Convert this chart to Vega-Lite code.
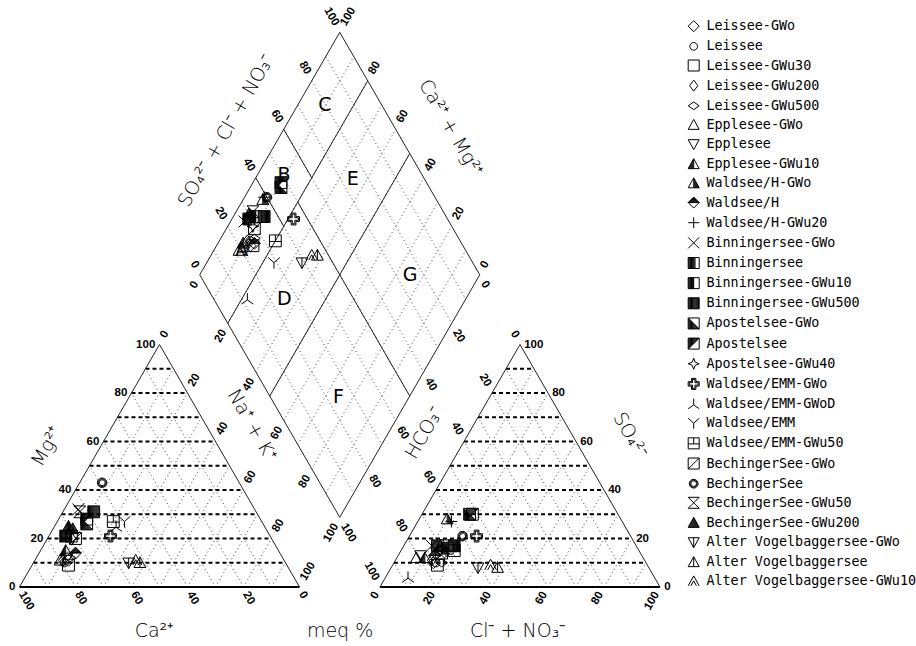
{
"$schema": "https://vega.github.io/schema/vega-lite/v6.json",
"width": 916, "height": 646, "padding": 0, "autosize": {"type": "none"},
"background": "white",
"config": {"view": {"stroke": null}},
"datasets": {
"dots": [
{"x":10,"y":0,"x2":55,"y2":77.94},{"x":20,"y":0,"x2":60,"y2":69.28},{"x":30,"y":0,"x2":65,"y2":60.62},{"x":40,"y":0,"x2":70,"y2":51.96},{"x":50,"y":0,"x2":75,"y2":43.3},{"x":60,"y":0,"x2":80,"y2":34.64},{"x":70,"y":0,"x2":85,"y2":25.98},{"x":80,"y":0,"x2":90,"y2":17.32},{"x":90,"y":0,"x2":95,"y2":8.66},
{"x":10,"y":0,"x2":5,"y2":8.66},{"x":20,"y":0,"x2":10,"y2":17.32},{"x":30,"y":0,"x2":15,"y2":25.98},{"x":40,"y":0,"x2":20,"y2":34.64},{"x":50,"y":0,"x2":25,"y2":43.3},{"x":60,"y":0,"x2":30,"y2":51.96},{"x":70,"y":0,"x2":35,"y2":60.62},{"x":80,"y":0,"x2":40,"y2":69.28},{"x":90,"y":0,"x2":45,"y2":77.94},
{"x":138.75,"y":0,"x2":183.75,"y2":77.94},{"x":148.75,"y":0,"x2":188.75,"y2":69.28},{"x":158.75,"y":0,"x2":193.75,"y2":60.62},{"x":168.75,"y":0,"x2":198.75,"y2":51.96},{"x":178.75,"y":0,"x2":203.75,"y2":43.3},{"x":188.75,"y":0,"x2":208.75,"y2":34.64},{"x":198.75,"y":0,"x2":213.75,"y2":25.98},{"x":208.75,"y":0,"x2":218.75,"y2":17.32},{"x":218.75,"y":0,"x2":223.75,"y2":8.66},
{"x":138.75,"y":0,"x2":133.75,"y2":8.66},{"x":148.75,"y":0,"x2":138.75,"y2":17.32},{"x":158.75,"y":0,"x2":143.75,"y2":25.98},{"x":168.75,"y":0,"x2":148.75,"y2":34.64},{"x":178.75,"y":0,"x2":153.75,"y2":43.3},{"x":188.75,"y":0,"x2":158.75,"y2":51.96},{"x":198.75,"y":0,"x2":163.75,"y2":60.62},{"x":208.75,"y":0,"x2":168.75,"y2":69.28},{"x":218.75,"y":0,"x2":173.75,"y2":77.94},
{"x":69.375,"y":120.16,"x2":119.375,"y2":33.56},{"x":74.375,"y":128.82,"x2":124.375,"y2":42.22},{"x":79.375,"y":137.48,"x2":129.375,"y2":50.88},{"x":84.375,"y":146.14,"x2":134.375,"y2":59.54},{"x":89.375,"y":154.8,"x2":139.375,"y2":68.2},{"x":94.375,"y":163.46,"x2":144.375,"y2":76.86},{"x":99.375,"y":172.12,"x2":149.375,"y2":85.52},{"x":104.375,"y":180.78,"x2":154.375,"y2":94.18},{"x":109.375,"y":189.44,"x2":159.375,"y2":102.84},
{"x":69.375,"y":102.84,"x2":119.375,"y2":189.44},{"x":74.375,"y":94.18,"x2":124.375,"y2":180.78},{"x":79.375,"y":85.52,"x2":129.375,"y2":172.12},{"x":84.375,"y":76.86,"x2":134.375,"y2":163.46},{"x":89.375,"y":68.2,"x2":139.375,"y2":154.8},{"x":94.375,"y":59.54,"x2":144.375,"y2":146.14},{"x":99.375,"y":50.88,"x2":149.375,"y2":137.48},{"x":104.375,"y":42.22,"x2":154.375,"y2":128.82},{"x":109.375,"y":33.56,"x2":159.375,"y2":120.16}
],
"dashes": [
{"x":5,"y":8.66,"x2":95,"y2":8.66},{"x":10,"y":17.32,"x2":90,"y2":17.32},{"x":15,"y":25.98,"x2":85,"y2":25.98},{"x":20,"y":34.64,"x2":80,"y2":34.64},{"x":25,"y":43.3,"x2":75,"y2":43.3},{"x":30,"y":51.96,"x2":70,"y2":51.96},{"x":35,"y":60.62,"x2":65,"y2":60.62},{"x":40,"y":69.28,"x2":60,"y2":69.28},{"x":45,"y":77.94,"x2":55,"y2":77.94},
{"x":133.75,"y":8.66,"x2":223.75,"y2":8.66},{"x":138.75,"y":17.32,"x2":218.75,"y2":17.32},{"x":143.75,"y":25.98,"x2":213.75,"y2":25.98},{"x":148.75,"y":34.64,"x2":208.75,"y2":34.64},{"x":153.75,"y":43.3,"x2":203.75,"y2":43.3},{"x":158.75,"y":51.96,"x2":198.75,"y2":51.96},{"x":163.75,"y":60.62,"x2":193.75,"y2":60.62},{"x":168.75,"y":69.28,"x2":188.75,"y2":69.28},{"x":173.75,"y":77.94,"x2":183.75,"y2":77.94}
],
"lines": [
{"x":0,"y":0,"x2":50,"y2":86.6},{"x":100,"y":0,"x2":50,"y2":86.6},{"x":128.75,"y":0,"x2":178.75,"y2":86.6},{"x":228.75,"y":0,"x2":178.75,"y2":86.6},
{"x":64.375,"y":111.5,"x2":114.375,"y2":198.1},{"x":114.375,"y":198.1,"x2":164.375,"y2":111.5},{"x":164.375,"y":111.5,"x2":114.375,"y2":24.9},{"x":114.375,"y":24.9,"x2":64.375,"y2":111.5},
{"x":84.375,"y":146.14,"x2":94.375,"y2":128.82},{"x":94.375,"y":163.46,"x2":104.375,"y2":146.14},{"x":74.375,"y":94.18,"x2":124.375,"y2":180.78},{"x":99.375,"y":137.48,"x2":139.375,"y2":68.2},{"x":89.375,"y":68.2,"x2":139.375,"y2":154.8}
],
"base": [{"x":0,"y":0,"x2":100,"y2":0},{"x":128.75,"y":0,"x2":228.75,"y2":0}],
"fields": [
{"t":"A","x":79.4,"y":120.2},{"t":"B","x":94.5,"y":147.3},{"t":"C","x":109.1,"y":172.1},{"t":"D","x":94.6,"y":102.7},{"t":"E","x":119,"y":145.6},{"t":"F","x":113.9,"y":68},{"t":"G","x":139.5,"y":111.4}
],
"ticks": [
{"axis":"Mg","x":-1.5,"y":0,"t":"0"},{"axis":"Mg","x":8.5,"y":17.32,"t":"20"},{"axis":"Mg","x":18.5,"y":34.64,"t":"40"},{"axis":"Mg","x":28.5,"y":51.96,"t":"60"},{"axis":"Mg","x":38.5,"y":69.28,"t":"80"},{"axis":"Mg","x":48.5,"y":86.6,"t":"100"},
{"axis":"SO4","x":230.25,"y":0,"t":"0"},{"axis":"SO4","x":220.25,"y":17.32,"t":"20"},{"axis":"SO4","x":210.25,"y":34.64,"t":"40"},{"axis":"SO4","x":200.25,"y":51.96,"t":"60"},{"axis":"SO4","x":190.25,"y":69.28,"t":"80"},{"axis":"SO4","x":180.25,"y":86.6,"t":"100"},
{"axis":"Ca","x":0.7,"y":-2,"t":"100"},{"axis":"Ca","x":20.7,"y":-2,"t":"80"},{"axis":"Ca","x":40.7,"y":-2,"t":"60"},{"axis":"Ca","x":60.7,"y":-2,"t":"40"},{"axis":"Ca","x":80.7,"y":-2,"t":"20"},{"axis":"Ca","x":100.7,"y":-2,"t":"0"},
{"axis":"dHCO3","x":165.675,"y":108.9,"t":"0"},{"axis":"dHCO3","x":155.675,"y":91.58,"t":"20"},{"axis":"dHCO3","x":145.675,"y":74.26,"t":"40"},{"axis":"dHCO3","x":135.675,"y":56.94,"t":"60"},{"axis":"dHCO3","x":125.675,"y":39.62,"t":"80"},{"axis":"dHCO3","x":115.675,"y":22.3,"t":"100"},
{"axis":"Cl","x":127.65,"y":-2,"t":"0"},{"axis":"Cl","x":147.65,"y":-2,"t":"20"},{"axis":"Cl","x":167.65,"y":-2,"t":"40"},{"axis":"Cl","x":187.65,"y":-2,"t":"60"},{"axis":"Cl","x":207.65,"y":-2,"t":"80"},{"axis":"Cl","x":227.65,"y":-2,"t":"100"},
{"axis":"dNaK","x":63.075,"y":108.9,"t":"0"},{"axis":"dNaK","x":73.075,"y":91.58,"t":"20"},{"axis":"dNaK","x":83.075,"y":74.26,"t":"40"},{"axis":"dNaK","x":93.075,"y":56.94,"t":"60"},{"axis":"dNaK","x":103.075,"y":39.62,"t":"80"},{"axis":"dNaK","x":113.075,"y":22.3,"t":"100"},
{"axis":"NaK","x":51.3,"y":89.2,"t":"0"},{"axis":"NaK","x":61.3,"y":71.88,"t":"20"},{"axis":"NaK","x":71.3,"y":54.56,"t":"40"},{"axis":"NaK","x":81.3,"y":37.24,"t":"60"},{"axis":"NaK","x":91.3,"y":19.92,"t":"80"},{"axis":"NaK","x":101.3,"y":2.6,"t":"100"},
{"axis":"dCaMg","x":115.675,"y":200.7,"t":"100"},{"axis":"dCaMg","x":125.675,"y":183.38,"t":"80"},{"axis":"dCaMg","x":135.675,"y":166.06,"t":"60"},{"axis":"dCaMg","x":145.675,"y":148.74,"t":"40"},{"axis":"dCaMg","x":155.675,"y":131.42,"t":"20"},{"axis":"dCaMg","x":165.675,"y":114.1,"t":"0"},
{"axis":"HCO3","x":177.45,"y":89.2,"t":"0"},{"axis":"HCO3","x":167.45,"y":71.88,"t":"20"},{"axis":"HCO3","x":157.45,"y":54.56,"t":"40"},{"axis":"HCO3","x":147.45,"y":37.24,"t":"60"},{"axis":"HCO3","x":137.45,"y":19.92,"t":"80"},{"axis":"HCO3","x":127.45,"y":2.6,"t":"100"},
{"axis":"dSO4Cl","x":63.075,"y":114.1,"t":"0"},{"axis":"dSO4Cl","x":73.075,"y":131.42,"t":"20"},{"axis":"dSO4Cl","x":83.075,"y":148.74,"t":"40"},{"axis":"dSO4Cl","x":93.075,"y":166.06,"t":"60"},{"axis":"dSO4Cl","x":103.075,"y":183.38,"t":"80"},{"axis":"dSO4Cl","x":113.075,"y":200.7,"t":"100"}
],
"titles": [
{"axis":"Ca","t":"Ca²⁺","x":48,"y":-18},{"axis":"meq","t":"meq %","x":114.5,"y":-17.9},{"axis":"Cl","t":"Cl⁻ + NO₃⁻","x":177.9,"y":-17.9},
{"axis":"Mg","t":"Mg²⁺","x":9.7,"y":50.1},{"axis":"HCO3","t":"HCO₃⁻","x":144.5,"y":55},{"axis":"dSO4Cl","t":"SO₄²⁻ + Cl⁻ + NO₃⁻","x":73.75,"y":162.9},
{"axis":"NaK","t":"Na⁺ + K⁺","x":83,"y":57.9},{"axis":"SO4","t":"SO₄²⁻","x":218,"y":54.3},{"axis":"dCaMg","t":"Ca²⁺ + Mg²⁺","x":154,"y":164}
],
"pts": [
{"s":"Leissee-GWo","x":17.5,"y":9.53},{"s":"Leissee-GWo","x":147.75,"y":8.66},{"s":"Leissee-GWo","x":82.38,"y":121.89},
{"s":"Leissee","x":16,"y":8.66},{"s":"Leissee","x":148.75,"y":8.66},{"s":"Leissee","x":82.38,"y":123.62},
{"s":"Leissee-GWu30","x":17.5,"y":7.79},{"s":"Leissee-GWu30","x":149.25,"y":7.79},{"s":"Leissee-GWu30","x":83.38,"y":121.89},
{"s":"Leissee-GWu200","x":15.5,"y":9.53},{"s":"Leissee-GWu200","x":147.25,"y":9.53},{"s":"Leissee-GWu200","x":81.38,"y":123.62},
{"s":"Leissee-GWu500","x":18,"y":10.39},{"s":"Leissee-GWu500","x":150.75,"y":8.66},{"s":"Leissee-GWu500","x":83.88,"y":124.49},
{"s":"Epplesee-GWo","x":14.5,"y":9.53},{"s":"Epplesee-GWo","x":141.75,"y":10.39},{"s":"Epplesee-GWo","x":78.38,"y":120.16},
{"s":"Epplesee","x":17,"y":10.39},{"s":"Epplesee","x":143.25,"y":11.26},{"s":"Epplesee","x":80.38,"y":120.16},
{"s":"Epplesee-GWu10","x":16.5,"y":12.99},{"s":"Epplesee-GWu10","x":144.75,"y":10.39},{"s":"Epplesee-GWu10","x":79.88,"y":122.76},
{"s":"Waldsee/H-GWo","x":19,"y":20.78},{"s":"Waldsee/H-GWo","x":152.75,"y":24.25},{"s":"Waldsee/H-GWo","x":86.88,"y":138.35},
{"s":"Waldsee/H","x":20,"y":12.12},{"s":"Waldsee/H","x":148.25,"y":11.26},{"s":"Waldsee/H","x":83.88,"y":122.76},
{"s":"Waldsee/H-GWu20","x":18,"y":19.05},{"s":"Waldsee/H-GWu20","x":154.25,"y":23.38},{"s":"Waldsee/H-GWu20","x":87.38,"y":139.21},
{"s":"Binningersee-GWo","x":21,"y":27.71},{"s":"Binningersee-GWo","x":147.25,"y":14.72},{"s":"Binningersee-GWo","x":80.38,"y":130.55},
{"s":"Binningersee","x":16.5,"y":18.19},{"s":"Binningersee","x":149.25,"y":14.72},{"s":"Binningersee","x":81.88,"y":131.42},
{"s":"Binningersee-GWu10","x":18.5,"y":18.19},{"s":"Binningersee-GWu10","x":152.75,"y":13.86},{"s":"Binningersee-GWu10","x":84.38,"y":132.28},
{"s":"Binningersee-GWu500","x":26.5,"y":26.85},{"s":"Binningersee-GWu500","x":155.25,"y":14.72},{"s":"Binningersee-GWu500","x":87.38,"y":132.28},
{"s":"Apostelsee-GWo","x":24,"y":22.52},{"s":"Apostelsee-GWo","x":160.75,"y":25.98},{"s":"Apostelsee-GWo","x":93.38,"y":142.68},
{"s":"Apostelsee","x":24,"y":24.25},{"s":"Apostelsee","x":161.75,"y":25.98},{"s":"Apostelsee","x":93.38,"y":144.41},
{"s":"Apostelsee-GWu40","x":19,"y":17.32},{"s":"Apostelsee-GWu40","x":150.25,"y":12.99},{"s":"Apostelsee-GWu40","x":83.38,"y":128.82},
{"s":"Waldsee/EMM-GWo","x":32.5,"y":18.19},{"s":"Waldsee/EMM-GWo","x":163.25,"y":18.19},{"s":"Waldsee/EMM-GWo","x":97.88,"y":131.42},
{"s":"Waldsee/EMM-GWoD","x":34.5,"y":21.65},{"s":"Waldsee/EMM-GWoD","x":138.75,"y":3.46},{"s":"Waldsee/EMM-GWoD","x":81.38,"y":102.84},
{"s":"Waldsee/EMM","x":37.5,"y":23.38},{"s":"Waldsee/EMM","x":151.75,"y":10.39},{"s":"Waldsee/EMM","x":90.88,"y":115.83},
{"s":"Waldsee/EMM-GWu50","x":33.5,"y":23.38},{"s":"Waldsee/EMM-GWu50","x":155.25,"y":12.99},{"s":"Waldsee/EMM-GWu50","x":91.38,"y":123.62},
{"s":"BechingerSee-GWo","x":20,"y":17.32},{"s":"BechingerSee-GWo","x":150.75,"y":12.12},{"s":"BechingerSee-GWo","x":83.88,"y":127.95},
{"s":"BechingerSee","x":29.5,"y":37.24},{"s":"BechingerSee","x":158.25,"y":18.19},{"s":"BechingerSee","x":88.38,"y":139.21},
{"s":"BechingerSee-GWu50","x":21.5,"y":26.85},{"s":"BechingerSee-GWu50","x":152.25,"y":14.72},{"s":"BechingerSee-GWu50","x":83.38,"y":134.02},
{"s":"BechingerSee-GWu200","x":17.5,"y":21.65},{"s":"BechingerSee-GWu200","x":150.25,"y":14.72},{"s":"BechingerSee-GWu200","x":81.88,"y":133.15},
{"s":"Alter Vogelbaggersee-GWo","x":39,"y":8.66},{"s":"Alter Vogelbaggersee-GWo","x":163.75,"y":6.93},{"s":"Alter Vogelbaggersee-GWo","x":100.88,"y":115.83},
{"s":"Alter Vogelbaggersee","x":43,"y":8.66},{"s":"Alter Vogelbaggersee","x":170.75,"y":6.93},{"s":"Alter Vogelbaggersee","x":106.38,"y":118.43},
{"s":"Alter Vogelbaggersee-GWu10","x":41.5,"y":9.53},{"s":"Alter Vogelbaggersee-GWu10","x":168.25,"y":7.79},{"s":"Alter Vogelbaggersee-GWu10","x":104.38,"y":118.43}
]
},
"encoding": {
"x": {"field": "x", "type": "quantitative", "scale": {"domain": [-6.964, 320.18], "nice": false, "zero": false}, "axis": null},
"y": {"field": "y", "type": "quantitative", "scale": {"domain": [-21.07, 209.64], "nice": false, "zero": false}, "axis": null}
},
"layer": [
{"data": {"name": "dots"}, "mark": {"type": "rule", "color": "#444444", "strokeWidth": 1, "strokeDash": [1, 3]}, "encoding": {"x2": {"field": "x2"}, "y2": {"field": "y2"}}},
{"data": {"name": "dashes"}, "mark": {"type": "rule", "color": "black", "strokeWidth": 2, "strokeDash": [4, 3]}, "encoding": {"x2": {"field": "x2"}, "y2": {"field": "y2"}}},
{"data": {"name": "lines"}, "mark": {"type": "rule", "color": "#222222", "strokeWidth": 1}, "encoding": {"x2": {"field": "x2"}, "y2": {"field": "y2"}}},
{"data": {"name": "base"}, "mark": {"type": "rule", "color": "black", "strokeWidth": 2.2}, "encoding": {"x2": {"field": "x2"}, "y2": {"field": "y2"}}},
{"data": {"name": "fields"}, "mark": {"type": "text", "font": "DejaVu Sans", "fontSize": 19, "fontWeight": "normal", "color": "black", "align": "center", "baseline": "middle"}, "encoding": {"text": {"field": "t"}}},
{"data": {"name": "ticks"}, "transform": [{"filter": {"field": "axis", "oneOf": ["Mg"]}}], "mark": {"type": "text", "font": "Liberation Sans", "fontSize": 11.5, "fontWeight": "bold", "color": "black", "align": "right", "baseline": "middle"}, "encoding": {"text": {"field": "t"}}},
{"data": {"name": "ticks"}, "transform": [{"filter": {"field": "axis", "oneOf": ["SO4"]}}], "mark": {"type": "text", "font": "Liberation Sans", "fontSize": 11.5, "fontWeight": "bold", "color": "black", "align": "left", "baseline": "middle"}, "encoding": {"text": {"field": "t"}}},
{"data": {"name": "ticks"}, "transform": [{"filter": {"field": "axis", "oneOf": ["Ca", "dHCO3"]}}], "mark": {"type": "text", "font": "Liberation Sans", "fontSize": 11.5, "fontWeight": "bold", "color": "black", "align": "left", "baseline": "middle", "angle": 60}, "encoding": {"text": {"field": "t"}}},
{"data": {"name": "ticks"}, "transform": [{"filter": {"field": "axis", "oneOf": ["Cl", "dNaK"]}}], "mark": {"type": "text", "font": "Liberation Sans", "fontSize": 11.5, "fontWeight": "bold", "color": "black", "align": "right", "baseline": "middle", "angle": -60}, "encoding": {"text": {"field": "t"}}},
{"data": {"name": "ticks"}, "transform": [{"filter": {"field": "axis", "oneOf": ["NaK", "dCaMg"]}}], "mark": {"type": "text", "font": "Liberation Sans", "fontSize": 11.5, "fontWeight": "bold", "color": "black", "align": "left", "baseline": "middle", "angle": -60}, "encoding": {"text": {"field": "t"}}},
{"data": {"name": "ticks"}, "transform": [{"filter": {"field": "axis", "oneOf": ["HCO3", "dSO4Cl"]}}], "mark": {"type": "text", "font": "Liberation Sans", "fontSize": 11.5, "fontWeight": "bold", "color": "black", "align": "right", "baseline": "middle", "angle": 60}, "encoding": {"text": {"field": "t"}}},
{"data": {"name": "titles"}, "transform": [{"filter": {"field": "axis", "oneOf": ["Ca", "meq", "Cl"]}}], "mark": {"type": "text", "font": "DejaVu Sans", "fontSize": 19, "fontWeight": 200, "color": "black", "align": "center", "baseline": "alphabetic"}, "encoding": {"text": {"field": "t"}}},
{"data": {"name": "titles"}, "transform": [{"filter": {"field": "axis", "oneOf": ["Mg", "HCO3", "dSO4Cl"]}}], "mark": {"type": "text", "font": "DejaVu Sans", "fontSize": 19, "fontWeight": 200, "color": "black", "align": "center", "baseline": "middle", "angle": -60}, "encoding": {"text": {"field": "t"}}},
{"data": {"name": "titles"}, "transform": [{"filter": {"field": "axis", "oneOf": ["NaK", "SO4", "dCaMg"]}}], "mark": {"type": "text", "font": "DejaVu Sans", "fontSize": 19, "fontWeight": 200, "color": "black", "align": "center", "baseline": "middle", "angle": 60}, "encoding": {"text": {"field": "t"}}},
{"data": {"name": "pts"}, "mark": {"type": "point", "filled": false, "color": "black", "strokeWidth": 1, "size": 140, "opacity": 1},
 "encoding": {"shape": {"field": "s", "type": "nominal",
  "scale": {"domain": ["Leissee-GWo","Leissee","Leissee-GWu30","Leissee-GWu200","Leissee-GWu500","Epplesee-GWo","Epplesee","Epplesee-GWu10","Waldsee/H-GWo","Waldsee/H","Waldsee/H-GWu20","Binningersee-GWo","Binningersee","Binningersee-GWu10","Binningersee-GWu500","Apostelsee-GWo","Apostelsee","Apostelsee-GWu40","Waldsee/EMM-GWo","Waldsee/EMM-GWoD","Waldsee/EMM","Waldsee/EMM-GWu50","BechingerSee-GWo","BechingerSee","BechingerSee-GWu50","BechingerSee-GWu200","Alter Vogelbaggersee-GWo","Alter Vogelbaggersee","Alter Vogelbaggersee-GWu10"],
   "range": [
   "M0,-1L1,0L0,1L-1,0Z",
   "M0.7,0A0.7,0.7 0 1,1 -0.7,0A0.7,0.7 0 1,1 0.7,0Z",
   "M-1,-1H1V1H-1Z",
   "M0,-1L0.75,0L0,1L-0.75,0Z",
   "M0,-0.7L1,0L0,0.7L-1,0Z",
   "M0,-1L1,0.8H-1Z",
   "M-1,-0.8H1L0,1Z",
   "M0,-1L1,0.8H-1ZM-0.9,0.62V0.8M-0.72,0.3V0.8M-0.54,-0.03V0.8M-0.36,-0.35V0.8M-0.18,-0.68V0.8M0,-1V0.8",
   "M0,-1L1,0.8H-1ZM0,-1V0.8M0.18,-0.68V0.8M0.36,-0.35V0.8M0.54,-0.03V0.8M0.72,0.3V0.8M0.9,0.62V0.8",
   "M0,-1L1,0L0,1L-1,0ZM-0.12,-0.88H0.12M-0.28,-0.72H0.28M-0.44,-0.56H0.44M-0.6,-0.4H0.6M-0.76,-0.24H0.76M-0.92,-0.08H0.92M-1,0H1",
   "M-1,0H1M0,-1V1",
   "M-1,-1L1,1M1,-1L-1,1",
   "M-1,-1H1V1H-1ZM-0.88,-1V1M-0.72,-1V1M-0.56,-1V1M-0.4,-1V1M-0.24,-1V1M-0.08,-1V1M0.08,-1V1M0.24,-1V1",
   "M-1,-1H1V1H-1ZM-0.88,-1V1M-0.72,-1V1M-0.56,-1V1M-0.4,-1V1M-0.24,-1V1M-0.08,-1V1M0,-1V1",
   "M-1,-1H1V1H-1ZM-0.88,-1V1M-0.72,-1V1M-0.56,-1V1M-0.4,-1V1M-0.24,-1V1M-0.08,-1V1M0.08,-1V1M0.24,-1V1M0.4,-1V1M0.56,-1V1M0.72,-1V1M0.88,-1V1",
   "M-1,-1H1V1H-1ZM-1,-1L1,1M-0.88,-0.88V1M-0.72,-0.72V1M-0.56,-0.56V1M-0.4,-0.4V1M-0.24,-0.24V1M-0.08,-0.08V1M0.08,0.08V1M0.24,0.24V1M0.4,0.4V1M0.56,0.56V1M0.72,0.72V1M0.88,0.88V1",
   "M-1,-1H1V1H-1ZM-1,1L1,-1M-0.88,-1V0.88M-0.72,-1V0.72M-0.56,-1V0.56M-0.4,-1V0.4M-0.24,-1V0.24M-0.08,-1V0.08M0.08,-1V-0.08M0.24,-1V-0.24M0.4,-1V-0.4M0.56,-1V-0.56M0.72,-1V-0.72M0.88,-1V-0.88",
   "M0,-1L0.28,-0.28L1,0L0.28,0.28L0,1L-0.28,0.28L-1,0L-0.28,-0.28Z",
   "M-0.4,-1H0.4V-0.4H1V0.4H0.4V1H-0.4V0.4H-1V-0.4H-0.4ZM-0.22,-0.82H0.22V-0.22H0.82V0.22H0.22V0.82H-0.22V0.22H-0.82V-0.22H-0.22Z",
   "M0,-1V0.15M0,0.15L-1,0.85M0,0.15L1,0.85",
   "M-1,-0.9L0,0L1,-0.9M0,0V1",
   "M-1,-1H1V1H-1ZM-1,0.1H1M0,-1V0.1",
   "M-1,-1H1V1H-1ZM-1,1L1,-1",
   "M0.8,0A0.8,0.8 0 1,1 -0.8,0A0.8,0.8 0 1,1 0.8,0ZM0.65,0A0.65,0.65 0 1,1 -0.65,0A0.65,0.65 0 1,1 0.65,0ZM0.5,0A0.5,0.5 0 1,1 -0.5,0A0.5,0.5 0 1,1 0.5,0Z",
   "M-1,-1H1L-1,1H1Z",
   "M0,-1L1,0.8H-1ZM-0.9,0.62V0.8M-0.72,0.3V0.8M-0.54,-0.03V0.8M-0.36,-0.35V0.8M-0.18,-0.68V0.8M0,-1V0.8M0.18,-0.68V0.8M0.36,-0.35V0.8M0.54,-0.03V0.8M0.72,0.3V0.8M0.9,0.62V0.8",
   "M-1,-0.8H1L0,1ZM0,-0.8V1",
   "M0,-1L1,0.8H-1ZM0,-1V0.8",
   "M-1,0.8L0,-1L1,0.8M-0.5,0.8L0,-0.1L0.5,0.8"
   ]},
  "legend": {"orient": "none", "legendX": 687, "legendY": 19.5, "title": null, "padding": 0, "labelFont": "DejaVu Sans Mono", "labelFontSize": 13.4, "labelColor": "black", "labelOffset": 6, "labelLimit": 300, "symbolSize": 121, "symbolStrokeWidth": 1, "symbolStrokeColor": "black", "symbolFillColor": "transparent", "symbolLimit": 50, "rowPadding": 4.15}
 }}}
]
}
